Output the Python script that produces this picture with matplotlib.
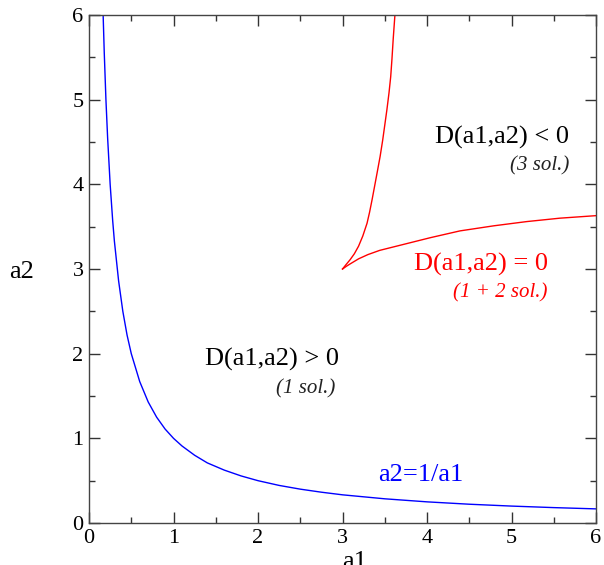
import matplotlib
matplotlib.use("Agg")
import matplotlib.pyplot as plt
from matplotlib.ticker import MultipleLocator

# Blue curve a2 = 1/a1
blue_a1 = [0.167, 0.18, 0.2, 0.22, 0.25, 0.28, 0.3, 0.35, 0.4, 0.45, 0.5, 0.6, 0.7, 0.8, 0.9, 1.0,
           1.1, 1.25, 1.4, 1.6, 1.8, 2.0, 2.25, 2.5, 2.75, 3.0, 3.5, 4.0, 4.5, 5.0, 5.5, 6.0]
blue_a2 = [6.0, 5.56, 5.0, 4.55, 4.0, 3.57, 3.33, 2.86, 2.5, 2.22, 2.0, 1.67, 1.43, 1.25, 1.11, 1.0,
           0.91, 0.8, 0.71, 0.625, 0.556, 0.5, 0.444, 0.4, 0.364, 0.333, 0.286, 0.25, 0.222, 0.2, 0.182, 0.167]

# Red curve D(a1,a2) = 0, two branches from the cusp at (3, 3)
upper_a1 = [3.0, 3.04, 3.09, 3.14, 3.19, 3.24, 3.29, 3.32, 3.35, 3.38, 3.41, 3.445, 3.475,
            3.50, 3.525, 3.55, 3.57, 3.585, 3.60, 3.62]
upper_a2 = [3.0, 3.05, 3.11, 3.18, 3.27, 3.39, 3.54, 3.67, 3.82, 3.98, 4.14, 4.33, 4.52,
            4.70, 4.88, 5.08, 5.27, 5.48, 5.72, 6.0]
lower_a1 = [3.0, 3.05, 3.09, 3.19, 3.3, 3.44, 3.64, 3.84, 4.04, 4.39, 4.79, 5.18, 5.57, 6.0]
lower_a2 = [3.0, 3.035, 3.06, 3.12, 3.17, 3.22, 3.27, 3.32, 3.37, 3.45, 3.51, 3.56, 3.60, 3.63]

fig = plt.figure(figsize=(6.04, 5.65), dpi=100)
ax = fig.add_axes([0.1474, 0.0743, 0.8394, 0.8992])

ax.plot(blue_a1, blue_a2, color="#0000ff", lw=1.0)
ax.plot(upper_a1, upper_a2, color="#ff0000", lw=1.0)
ax.plot(lower_a1, lower_a2, color="#ff0000", lw=1.0)

ax.set_xlim(0, 6)
ax.set_ylim(0, 6)
ax.xaxis.set_major_locator(MultipleLocator(1))
ax.xaxis.set_minor_locator(MultipleLocator(0.5))
ax.yaxis.set_major_locator(MultipleLocator(1))
ax.yaxis.set_minor_locator(MultipleLocator(0.5))
ax.tick_params(which="both", direction="in", top=True, right=True, colors="#333333",
               labelcolor="black", width=1.0)
ax.tick_params(which="major", length=8, labelsize=16, pad=4)
ax.tick_params(which="minor", length=4)
for lbl in ax.get_xticklabels() + ax.get_yticklabels():
    lbl.set_family("Liberation Serif")
for s in ax.spines.values():
    s.set_color("#444444")
    s.set_linewidth(1.0)

serif = "Liberation Serif"
ax.text(5.68, 4.55, "D(a1,a2) < 0", ha="right", va="center", fontsize=19, family=serif, color="black")
ax.text(5.68, 4.22, "(3 sol.)", ha="right", va="center", fontsize=15, family=serif, style="italic", color="#222222")
ax.text(5.43, 3.05, "D(a1,a2) = 0", ha="right", va="center", fontsize=19, family=serif, color="#ff0000")
ax.text(5.43, 2.72, "(1 + 2 sol.)", ha="right", va="center", fontsize=15, family=serif, style="italic", color="#ff0000")
ax.text(2.96, 1.93, "D(a1,a2) > 0", ha="right", va="center", fontsize=19, family=serif, color="black")
ax.text(2.91, 1.58, "(1 sol.)", ha="right", va="center", fontsize=15, family=serif, style="italic", color="#222222")
ax.text(3.42, 0.57, "a2=1/a1", ha="left", va="center", fontsize=19, family=serif, color="#0000ff")

fig.text(22 / 604, 1 - 272 / 565, "a2", ha="center", va="center", fontsize=19, family=serif)
fig.text(355 / 604, 1 - 562 / 565, "a1", ha="center", va="center", fontsize=19, family=serif)

fig.savefig("out.png", dpi=100)
